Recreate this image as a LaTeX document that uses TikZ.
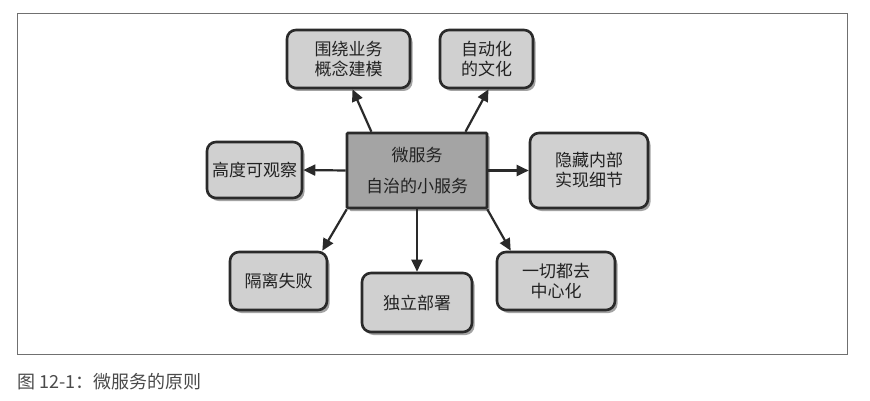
\documentclass[tikz,border=0pt]{standalone}
\usepackage{fontspec}
\newfontfamily\cjkSans{Noto Sans CJK SC}
\definecolor{boxGray}{HTML}{D0D0D0}
\definecolor{coreGray}{HTML}{A4A4A4}
\definecolor{edgeDark}{HTML}{2A2A2A}
\definecolor{frameGray}{HTML}{707070}
\definecolor{textDark}{HTML}{222222}
\definecolor{captionGray}{HTML}{4A4A4A}
\usetikzlibrary{calc, arrows.meta, shadows}
\tikzset{
  principleBox/.style={fill=boxGray, draw=edgeDark, line width=2.6pt, rounded corners=9pt,
    align=center, text=textDark, inner sep=0pt, font=\cjkSans\fontsize{17}{20}\selectfont,
    drop shadow={shadow xshift=2.5pt, shadow yshift=-3pt, fill=black!55, opacity=0.65}},
  coreBox/.style={principleBox, fill=coreGray, rounded corners=1pt},
  principleLink/.style={draw=edgeDark, line width=2.2pt, -{Triangle[length=12pt, width=11pt]}}
}

\begin{document}
\begin{tikzpicture}[x=1pt, y=-1pt]
      \fill[white] (0,0) rectangle (870,401);
      \useasboundingbox (0,0) rectangle (870,401);
      \draw[frameGray, line width=1pt] (17,14) rectangle (847,354);

      \node[coreBox, minimum width=140pt, minimum height=75pt] (core) at (417,170.5)
        {微服务\\[11pt]自治的小服务};
      \node[principleBox, minimum width=123pt, minimum height=58pt] (model) at (348.5,59)
        {围绕业务\\概念建模};
      \node[principleBox, minimum width=93pt, minimum height=58pt] (culture) at (486.5,59)
        {自动化\\的文化};
      \node[principleBox, minimum width=95pt, minimum height=56pt] (observe) at (254.5,170)
        {高度可观察};
      \node[principleBox, minimum width=118pt, minimum height=75pt] (hide) at (589,170.5)
        {隐藏内部\\实现细节};
      \node[principleBox, minimum width=97pt, minimum height=58pt] (isolate) at (278.5,281)
        {隔离失败};
      \node[principleBox, minimum width=110pt, minimum height=59pt] (deploy) at (417,302.5)
        {独立部署};
      \node[principleBox, minimum width=118pt, minimum height=58pt] (decentral) at (556,281)
        {一切都去\\中心化};

      \draw[principleLink] ($(core.north west)!0.18!(core.north east)$) -- ($(model.south)+(4,0)$);
      \draw[principleLink] ($(core.north west)!0.84!(core.north east)$) -- ($(culture.south)+(2,0)$);
      \draw[principleLink] (core.west) -- (observe.east);
      \draw[principleLink] (core.east) -- (hide.west);
      \draw[principleLink] ($(core.south west)+(1,0)$) -- ($(isolate.north east)+(-6,0)$);
      \draw[principleLink] (core.south) -- (deploy.north);
      \draw[principleLink] ($(core.south east)+(-1,0)$) -- ($(decentral.north west)+(15,0)$);

      \node[anchor=west, text=captionGray, inner sep=0pt, font=\cjkSans\fontsize{18}{20}\selectfont]
        (caption) at (17,382) {图 12-1：微服务的原则};
    \end{tikzpicture}
\end{document}
